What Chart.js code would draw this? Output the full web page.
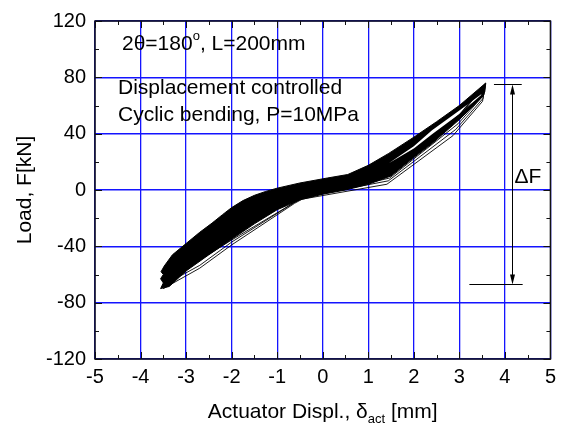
<!DOCTYPE html>
<html lang="en">
<head>
<meta charset="UTF-8">
<title>Cyclic bending - load vs. actuator displacement</title>
<script src="https://cdn.jsdelivr.net/npm/chart.js"></script>
<style>
  html, body { margin: 0; padding: 0; background: #fff; }
  #wrap { width: 562px; height: 430px; }
</style>
</head>
<body>
<div id="wrap"><canvas id="loadChart"></canvas></div>
<script>
// Upper envelope of the loading branches, left to right (mm, kN)
const upperX = [-3.48, -3.30, -3.00, -2.70, -2.43, -2.20, -2.00, -1.75, -1.50, -1.25, -1.00, -0.50, 0.10, 0.55, 1.00, 1.45, 2.00, 2.50, 3.00, 3.58];
const upperY = [-54, -46, -38, -30, -23.5, -17.5, -12.5, -7.5, -3.8, -1, 1.3, 5, 8.5, 11, 17.5, 26, 37.5, 48.5, 60, 76];

// Lower envelope of the unloading branches, right to left (ragged at the left end)
const lowerX = [3.56, 3.50, 3.00, 2.40, 2.00, 1.50, 1.00, 0.50, 0.00, -0.50, -1.00, -1.50, -2.00, -2.50, -3.00, -3.37, -3.56, -3.50, -3.56, -3.50, -3.55];
const lowerY = [70, 66, 50, 33, 23, 10, 4, 0, -3, -7, -14, -24, -35, -46, -57.5, -68.5, -70, -66, -63, -60, -58];

// Open space between the loading and unloading bundles near the peak
const gapX = [1.45, 2.00, 2.40, 3.00, 3.48, 3.48, 3.00, 2.40, 2.00];
const gapY = [19, 31, 42.5, 56.5, 68, 67.5, 54, 39.5, 29.5];

// First cycles, lying below the stabilised bundle
const cycle1X = [-3.50, -2.70, -2.00, -0.62, -0.45, 1.41, 2.86, 3.51, 3.56, 3.00, 2.40, 1.50, 0.50, -0.50, -1.50, -2.50, -3.50];
const cycle1Y = [-70, -55.5, -39, -9.5, -6.5, 4.1, 38.6, 63, 75, 52, 36, 12, 2, -5, -22, -44, -70];
const cycle2X = [-3.52, -2.70, -2.00, -0.58, -0.42, 1.44, 2.92, 3.52, 3.57, 3.00, 2.40, 1.50, 0.50, -0.50, -1.50, -2.50, -3.52];
const cycle2Y = [-68, -53.5, -37, -8, -5, 6.5, 43, 65, 75.5, 53, 37, 13, 2.5, -4.5, -21, -43, -68];
const cycle3X = [-3.50, -2.00, -0.50, 0.00, 1.47, 2.97, 3.54, 3.57, 3.00, 2.40, 1.50, 0.50, -0.50, -1.50, -2.50, -3.50];
const cycle3Y = [-66, -35.5, -6.5, -2.5, 8.5, 47, 67.5, 75.5, 53.5, 37.5, 13.5, 3, -4, -20, -42, -66];

// Load range marker (kN) and where it is drawn (mm)
const rangeTop = 75.6;
const rangeBottom = -66.4;
const rangeArrowX = 4.15;
const rangeTopSpan = [3.76, 4.37];
const rangeBottomSpan = [3.22, 4.39];

// Axis ticks
const xTicks = [-5, -4, -3, -2, -1, 0, 1, 2, 3, 4, 5];
const yTicks = [-120, -80, -40, 0, 40, 80, 120];

const family = '"Liberation Sans", Arial, Helvetica, sans-serif';
const gridBlue = 'rgb(20,20,255)';

function points(xs, ys) {
    return xs.map((v, i) => ({x: v, y: ys[i]}));
}

// band polygon: loading envelope out, unloading envelope back
const bandPoints = points(upperX, upperY).concat(points(lowerX, lowerY));
bandPoints.push(bandPoints[0]);
const gapPoints = points(gapX, gapY);
gapPoints.push(gapPoints[0]);

function drawRuns(ctx, runs, x0, base) {
    let xx = x0;
    for (const r of runs) {
        ctx.font = r.font;
        ctx.fillText(r.text, xx, base + (r.dy || 0));
        xx += ctx.measureText(r.text).width;
    }
    return xx - x0;
}

function runsWidth(ctx, runs) {
    let w = 0;
    for (const r of runs) {
        ctx.font = r.font;
        w += ctx.measureText(r.text).width;
    }
    return w;
}

// frame with inward ticks on all four sides
const frameTicks = {
    id: 'frameTicks',
    afterDatasetsDraw(chart) {
        const {ctx, chartArea: a, scales: {x, y}} = chart;
        ctx.save();
        ctx.strokeStyle = '#111';
        ctx.lineWidth = 1;
        ctx.beginPath();
        for (let i = 0; i <= 20; i++) {
            const v = -5 + i * 0.5;
            const p = Math.round(x.getPixelForValue(v)) + 0.5;
            const len = i % 2 === 0 ? 7 : 4;
            ctx.moveTo(p, a.bottom); ctx.lineTo(p, a.bottom - len);
            ctx.moveTo(p, a.top); ctx.lineTo(p, a.top + len);
        }
        for (let i = 0; i <= 12; i++) {
            const v = -120 + i * 20;
            const p = Math.round(y.getPixelForValue(v)) + 0.5;
            const len = i % 2 === 0 ? 7 : 4;
            ctx.moveTo(a.left, p); ctx.lineTo(a.left + len, p);
            ctx.moveTo(a.right, p); ctx.lineTo(a.right - len, p);
        }
        ctx.stroke();
        ctx.lineWidth = 1.5;
        ctx.strokeRect(a.left, a.top, a.right - a.left, a.bottom - a.top);
        ctx.restore();
    }
};

// text notes, load range marker and axis titles
const notes = {
    id: 'notes',
    afterDraw(chart) {
        const {ctx, chartArea: a, scales: {x, y}} = chart;
        const big = '21px ' + family;
        const small = '13px ' + family;
        ctx.save();
        ctx.fillStyle = '#000';
        ctx.strokeStyle = '#000';
        ctx.textBaseline = 'alphabetic';
        ctx.textAlign = 'left';

        drawRuns(ctx, [
            {text: '2\u03b8=180', font: big},
            {text: 'o', font: small, dy: -10},
            {text: ', L=200mm', font: big}
        ], a.left + 27, a.top + 29);
        ctx.font = big;
        ctx.fillText('Displacement controlled', a.left + 23, a.top + 73);
        ctx.fillText('Cyclic bending, P=10MPa', a.left + 23, a.top + 100);

        // load range bar with arrow heads
        const ax = Math.round(x.getPixelForValue(rangeArrowX)) + 0.5;
        const yt = Math.round(y.getPixelForValue(rangeTop)) + 0.5;
        const yb = Math.round(y.getPixelForValue(rangeBottom)) + 0.5;
        ctx.lineWidth = 1;
        ctx.beginPath();
        ctx.moveTo(x.getPixelForValue(rangeTopSpan[0]), yt);
        ctx.lineTo(x.getPixelForValue(rangeTopSpan[1]), yt);
        ctx.moveTo(x.getPixelForValue(rangeBottomSpan[0]), yb);
        ctx.lineTo(x.getPixelForValue(rangeBottomSpan[1]), yb);
        ctx.moveTo(ax, yt + 8);
        ctx.lineTo(ax, yb - 8);
        ctx.stroke();
        ctx.beginPath();
        ctx.moveTo(ax, yt); ctx.lineTo(ax - 2.5, yt + 10); ctx.lineTo(ax + 2.5, yt + 10); ctx.closePath();
        ctx.moveTo(ax, yb); ctx.lineTo(ax - 2.5, yb - 10); ctx.lineTo(ax + 2.5, yb - 10); ctx.closePath();
        ctx.fill();
        ctx.font = big;
        ctx.fillText('\u0394F', ax + 2, y.getPixelForValue(5));

        // x axis title with subscript
        const xRuns = [
            {text: 'Actuator Displ., \u03b4', font: big},
            {text: 'act', font: small, dy: 5},
            {text: ' [mm]', font: big}
        ];
        const cx = (a.left + a.right) / 2;
        drawRuns(ctx, xRuns, cx - runsWidth(ctx, xRuns) / 2, 418);

        // y axis title
        ctx.save();
        ctx.translate(31, (a.top + a.bottom) / 2);
        ctx.rotate(-Math.PI / 2);
        ctx.textAlign = 'center';
        ctx.font = big;
        ctx.fillText('Load, F[kN]', 0, 0);
        ctx.restore();

        ctx.restore();
    }
};

const tickFont = {family: family, size: 20};

function cycle(label, xs, ys) {
    return {
        label: label,
        data: points(xs, ys),
        showLine: true,
        borderColor: '#000',
        borderWidth: 0.9,
        pointRadius: 0,
        fill: false,
        order: 1
    };
}

new Chart(document.getElementById('loadChart'), {
    type: 'scatter',
    data: {
        datasets: [
            cycle('Cycle 1', cycle1X, cycle1Y),
            cycle('Cycle 2', cycle2X, cycle2Y),
            cycle('Cycle 3', cycle3X, cycle3Y),
            {
                label: 'Gap',
                data: gapPoints,
                showLine: true,
                borderColor: 'rgba(0,0,0,0)',
                backgroundColor: '#fff',
                pointRadius: 0,
                fill: 'shape',
                order: 2
            },
            {
                label: 'Stabilised cycles',
                data: bandPoints,
                showLine: true,
                borderColor: '#000',
                borderWidth: 1,
                backgroundColor: '#000',
                pointRadius: 0,
                fill: 'shape',
                order: 3
            }
        ]
    },
    options: {
        responsive: true,
        maintainAspectRatio: false,
        animation: false,
        events: [],
        layout: {padding: {top: 19, right: 7, left: 0, bottom: 0}},
        plugins: {
            legend: {display: false},
            tooltip: {enabled: false}
        },
        scales: {
            x: {
                type: 'linear',
                min: -5,
                max: 5,
                afterBuildTicks(scale) {
                    scale.ticks = xTicks.map(v => ({value: v}));
                },
                ticks: {color: '#000', font: tickFont, padding: 6, maxRotation: 0},
                grid: {color: gridBlue, lineWidth: 1.3, drawTicks: false},
                border: {display: false},
                afterFit(scale) { scale.height = 71; }
            },
            y: {
                type: 'linear',
                min: -120,
                max: 120,
                afterBuildTicks(scale) {
                    scale.ticks = yTicks.map(v => ({value: v}));
                },
                ticks: {color: '#000', font: tickFont, padding: 9},
                grid: {color: gridBlue, lineWidth: 1.5, drawTicks: false},
                border: {display: false},
                afterFit(scale) { scale.width = 95; }
            }
        }
    },
    plugins: [frameTicks, notes]
});
</script>
</body>
</html>
